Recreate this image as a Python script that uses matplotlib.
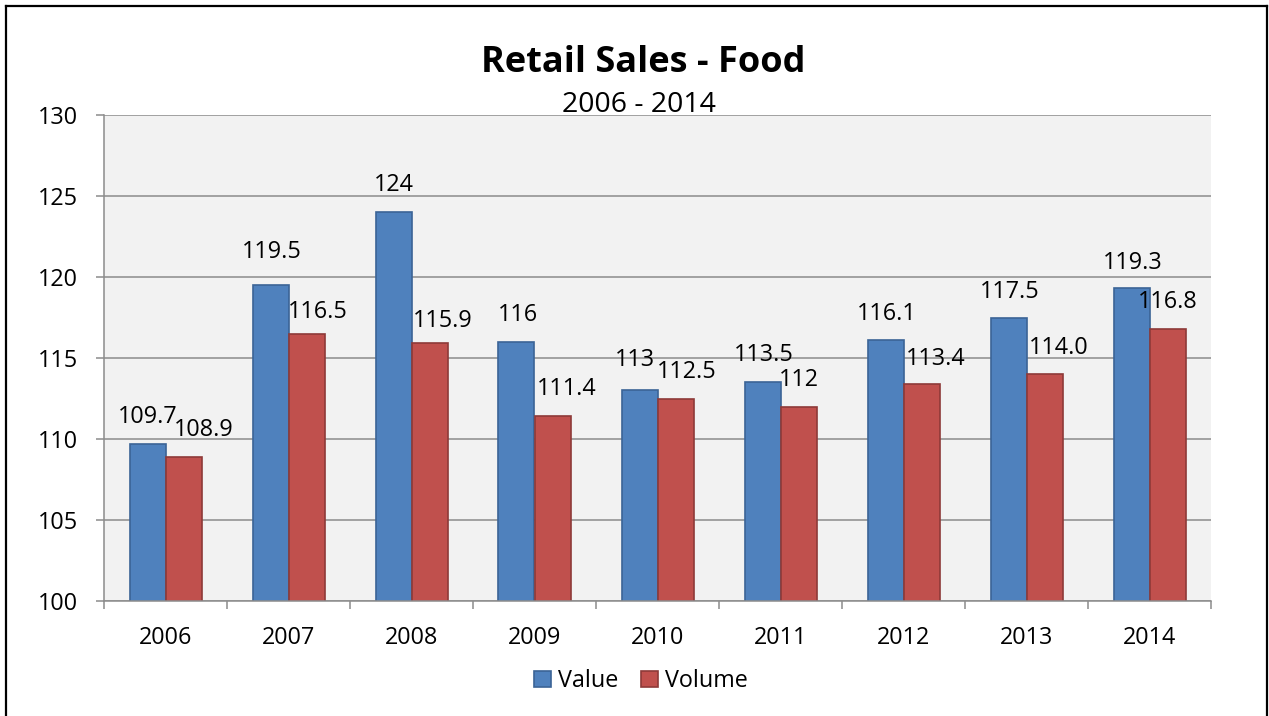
import matplotlib
matplotlib.use("Agg")
import matplotlib.pyplot as plt
from matplotlib.lines import Line2D
import numpy as np

# ---- data ----
years = ["2006", "2007", "2008", "2009", "2010", "2011", "2012", "2013", "2014"]
value = [109.7, 119.5, 124.0, 116.0, 113.0, 113.5, 116.1, 117.5, 119.3]
volume = [108.9, 116.5, 115.9, 111.4, 112.5, 112.0, 113.4, 114.0, 116.8]
value_labels = ["109.7", "119.5", "124", "116", "113", "113.5", "116.1", "117.5", "119.3"]
volume_labels = ["108.9", "116.5", "115.9", "111.4", "112.5", "112", "113.4", "114.0", "116.8"]
title = "Retail Sales - Food"
subtitle = "2006 - 2014"

# label placement (pixel offsets from bar top-centre), style only
value_dx = [0, 1, 0, 1, -5, 1, 1, 1, 1]
value_dy = [27, 33, 27, 27, 30, 27, 26, 26, 25]
volume_dx = [20, 11, 13, 14, 11, 0, 14, 14, 0]
volume_dy = [27, 22, 22, 27, 27, 27, 25, 26, 27]

plt.rcParams['font.family'] = ['Open Sans', 'DejaVu Sans']

W, H = 1269, 716
fig = plt.figure(figsize=(W / 100, H / 100), dpi=100)
fig.patch.set_facecolor("white")

ax = fig.add_axes([104 / W, 1 - 601 / H, (1211 - 104) / W, (601 - 115) / H])
ax.set_facecolor("#f2f2f2")

x = np.arange(len(years))
bw = 36 / 123
blue, blue_e = "#4f81bd", "#3b6496"
red, red_e = "#c0504d", "#8e3a38"
b1 = ax.bar(x - bw / 2, value, bw, color=blue, edgecolor=blue_e, linewidth=1.2,
            label="Value", zorder=3)
b2 = ax.bar(x + bw / 2, volume, bw, color=red, edgecolor=red_e, linewidth=1.2,
            label="Volume", zorder=3)

ax.set_ylim(100, 130)
ax.set_xlim(-0.5, len(years) - 0.5)
ax.set_yticks(np.arange(100, 131, 5))
ax.set_yticklabels([str(v) for v in range(100, 131, 5)])
ax.set_xticks(x)
ax.set_xticklabels(years)
ax.set_xticks(np.arange(-0.5, len(years), 1.0), minor=True)

grid_c = "#8c8c8c"
ax.yaxis.grid(True, color=grid_c, linewidth=1.1, zorder=1)
ax.set_axisbelow(True)
for s in ["top", "right"]:
    ax.spines[s].set_visible(False)
for s in ["left", "bottom"]:
    ax.spines[s].set_color(grid_c)
    ax.spines[s].set_linewidth(1.1)
    ax.spines[s].set_zorder(4)

fs = 16.8
ax.tick_params(axis="x", which="major", length=0, pad=18, labelsize=fs, colors="black")
ax.tick_params(axis="x", which="minor", length=5.8, width=1.1, color=grid_c)
ax.tick_params(axis="y", length=5.8, width=1.1, color=grid_c, pad=13, labelsize=fs,
               labelcolor="black")

for i in range(len(years)):
    ax.annotate(value_labels[i], (x[i] - bw / 2, value[i]), xytext=(value_dx[i], value_dy[i]),
                textcoords="offset pixels", ha="center", va="center", fontsize=fs, zorder=5)
    ax.annotate(volume_labels[i], (x[i] + bw / 2, volume[i]), xytext=(volume_dx[i], volume_dy[i]),
                textcoords="offset pixels", ha="center", va="center", fontsize=fs, zorder=5)

fig.text(643 / W, 1 - 71.5 / H, title, ha="center", va="baseline", fontsize=26, fontweight="bold")
fig.text(639 / W, 1 - 111.5 / H, subtitle, ha="center", va="baseline", fontsize=20.5)

fig.legend(handles=[b1, b2], labels=["Value", "Volume"], loc="center",
           bbox_to_anchor=(641 / W, 1 - 681 / H), ncol=2, frameon=False, fontsize=fs,
           handlelength=0.7, handleheight=0.7, handletextpad=0.3, columnspacing=1.0)

# outer border (top, left, right)
bc = "black"
fig.add_artist(Line2D([6 / W, 1267 / W], [1 - 6 / H, 1 - 6 / H], color=bc, lw=1.6))
fig.add_artist(Line2D([6 / W, 6 / W], [1 - 6 / H, 0], color=bc, lw=1.6))
fig.add_artist(Line2D([1267 / W, 1267 / W], [1 - 6 / H, 0], color=bc, lw=1.6))

fig.savefig("out.png", dpi=100)
